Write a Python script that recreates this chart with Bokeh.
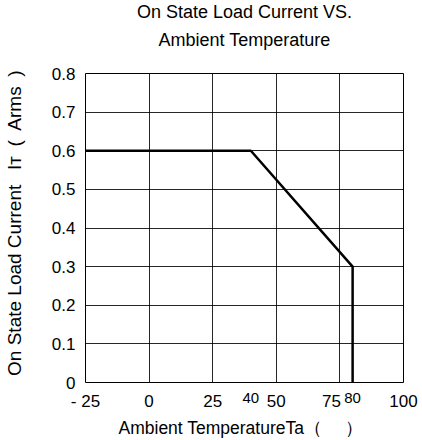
from bokeh.plotting import figure
from bokeh.models import Range1d, FixedTicker, LinearAxis
from bokeh.embed import file_html
from bokeh.resources import INLINE

# data
temp = [-25, 40, 80, 80]
current = [0.6, 0.6, 0.3, 0.0]
x_ticks = [-25, 0, 25, 50, 75, 100]
x_tick_labels = ["- 25", "0", "25", "50", "75\u2002\u2002", "100"]
x_extra_ticks = [40, 80]
x_extra_labels = ["40", "80"]
y_ticks = [0.0, 0.1, 0.2, 0.3, 0.4, 0.5, 0.6, 0.7, 0.8]
y_tick_labels = ["0", "0.1", "0.2", "0.3", "0.4", "0.5", "0.6", "0.7", "0.8"]
title_lines = ["On State Load Current VS.", "\u2003\u2009Ambient Temperature", "\u2003"]
x_label = "Ambient TemperatureTa\uff08\u3000 \uff09\u2004\u200a"
y_label = "\u2002On State Load Current\u2002 I\u1d1b\u2002(\u2002Arms\u2002)"

FONT = "Liberation Sans"

p = figure(width=422, height=440, output_backend="svg", toolbar_location=None,
           x_range=Range1d(-25, 100), y_range=Range1d(0, 0.8),
           min_border_left=85, min_border_right=19, min_border_top=73, min_border_bottom=58)

p.title.text = "\n".join(title_lines)
p.title.align = "center"
p.title.text_font = FONT
p.title.text_font_size = "18px"
p.title.text_font_style = "normal"
p.title.text_color = "black"
p.title.text_line_height = 1.39
p.title.standoff = -8

p.outline_line_color = "black"
p.outline_line_width = 1
p.background_fill_color = "white"
p.border_fill_color = "white"

def style_axis(ax, size):
    ax.axis_line_color = None
    ax.major_tick_line_color = None
    ax.minor_tick_line_color = None
    ax.major_tick_out = 0
    ax.major_tick_in = 0
    ax.minor_tick_out = 0
    ax.minor_tick_in = 0
    ax.major_label_text_font = FONT
    ax.major_label_text_font_size = size
    ax.major_label_text_color = "black"
    ax.axis_label_text_font = FONT
    ax.axis_label_text_font_style = "normal"
    ax.axis_label_text_color = "black"

xa = p.xaxis[0]
ya = p.yaxis[0]
style_axis(xa, "17px")
style_axis(ya, "17px")
xa.axis_label_text_font_size = "17.5px"
ya.axis_label_text_font_size = "19px"

xa.ticker = FixedTicker(ticks=x_ticks)
xa.major_label_overrides = {t: s for t, s in zip(x_ticks, x_tick_labels)}
ya.ticker = FixedTicker(ticks=y_ticks)
ya.major_label_overrides = {t: s for t, s in zip(y_ticks, y_tick_labels)}
ya.major_label_standoff = 10
xa.axis_label = x_label
ya.axis_label = y_label
ya.axis_label_standoff = 24

# small 40 / 80 labels, nearest to the frame
xa2 = LinearAxis(ticker=FixedTicker(ticks=x_extra_ticks))
style_axis(xa2, "15px")
xa2.major_label_overrides = {t: s for t, s in zip(x_extra_ticks, x_extra_labels)}
xa2.major_label_standoff = 10
p.below = [xa2] + [b for b in p.below]
xa.major_label_standoff = -14
xa.axis_label_standoff = 4

p.xgrid.ticker = FixedTicker(ticks=x_ticks)
p.ygrid.ticker = FixedTicker(ticks=y_ticks)
for g in (p.xgrid[0], p.ygrid[0]):
    g.grid_line_color = "black"
    g.grid_line_alpha = 0.85
    g.grid_line_width = 1

p.line(temp, current, line_color="black", line_width=2.5)

open("out.html", "w").write(file_html(p, INLINE))
